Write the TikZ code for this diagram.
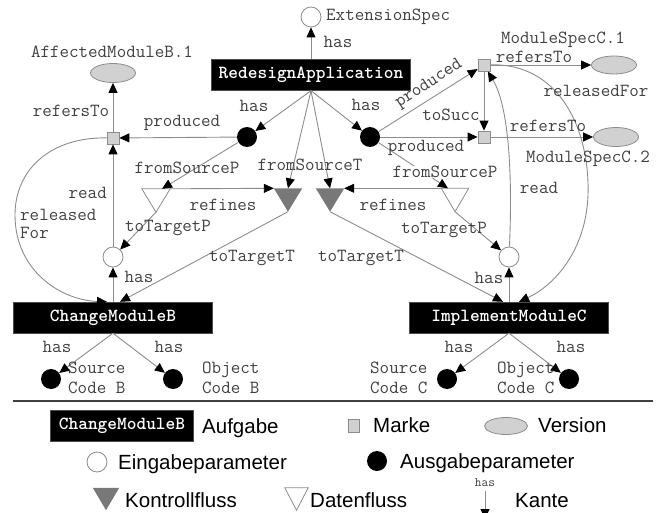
\documentclass[tikz,border=0pt]{standalone}
\usepackage{fontspec}
\setsansfont{Liberation Sans}
\usetikzlibrary{arrows.meta,shapes.geometric}

\definecolor{edgegray}{gray}{0.55}
\definecolor{tokenfill}{gray}{0.82}
\definecolor{ctrlfill}{gray}{0.47}
\definecolor{labelgray}{gray}{0.25}

\tikzset{
  lbl/.style={font=\ttfamily\fontsize{18.5}{20}\selectfont, text=labelgray, inner sep=0pt},
  smalllbl/.style={font=\ttfamily\fontsize{13}{14}\selectfont, text=labelgray, inner sep=0pt},
  legtxt/.style={font=\sffamily\fontsize{20.5}{22}\selectfont, text=black, inner sep=0pt, anchor=base west},
  task/.style={rectangle, fill=black, draw=black!70, text=white,
    font=\ttfamily\bfseries\fontsize{18.5}{20}\selectfont,
    minimum width=199pt, minimum height=31pt, inner sep=0pt},
  inparam/.style={circle, draw=edgegray, fill=white, line width=0.8pt, minimum size=20pt, inner sep=0pt},
  outparam/.style={circle, fill=black, minimum size=20pt, inner sep=0pt},
  token/.style={rectangle, draw=edgegray, fill=tokenfill, line width=0.8pt, minimum size=12pt, inner sep=0pt},
  version/.style={ellipse, draw=edgegray, fill=tokenfill, line width=0.8pt,
    minimum width=45pt, minimum height=19pt, inner sep=0pt},
  flowbox/.style={rectangle, minimum width=28pt, minimum height=23pt, inner sep=0pt},
  ctrltri/.style={fill=ctrlfill},
  datatri/.style={draw=edgegray, fill=white, line width=0.8pt},
  conn/.style={draw=edgegray, line width=0.9pt, -{Triangle[length=10pt,width=9pt,color=black]}},
}

\begin{document}
\begin{tikzpicture}[x=1pt,y=-1pt]
\useasboundingbox (0,0) rectangle (661,513);

% ---------- tasks ----------
\node[task] (RA)  at (311,75)    {RedesignApplication};
\node[task] (CMB) at (113,317.5) {ChangeModuleB};
\node[task] (IMC) at (509,317.5) {ImplementModuleC};

% ---------- parameters ----------
\node[inparam]  (ES)  at (311,17)  {};
\node[outparam] (bL)  at (247,137) {};
\node[outparam] (bR)  at (370,137) {};
\node[inparam]  (inL) at (113,257) {};
\node[inparam]  (inR) at (509,257) {};
\node[outparam] (sB)  at (51,379)  {};
\node[outparam] (oB)  at (173,379) {};
\node[outparam] (sC)  at (447,379) {};
\node[outparam] (oC)  at (569,379) {};

% ---------- tokens and versions ----------
\node[token]   (mB)   at (113,138) {};
\node[token]   (mC1)  at (484,65)  {};
\node[token]   (mC2)  at (484,137) {};
\node[version] (verB) at (113,73)  {};
\node[version, minimum height=18pt] (verC1) at (614,65)  {};
\node[version] (verC2) at (616,137) {};

% ---------- flow triangles ----------
\node[flowbox] (wtL) at (156,200.5) {};
\node[flowbox] (gtL) at (288,200)   {};
\node[flowbox] (gtR) at (330,200)   {};
\node[flowbox, minimum width=27pt] (wtR) at (455,200) {};
\draw[datatri] (wtL.north west) -- (wtL.north east) -- (wtL.south) -- cycle;
\fill[ctrltri] (gtL.north west) -- (gtL.north east) -- (gtL.south) -- cycle;
\fill[ctrltri] (gtR.north west) -- (gtR.north east) -- (gtR.south) -- cycle;
\draw[datatri] (wtR.north west) -- (wtR.north east) -- (wtR.south) -- cycle;

% ---------- connectors ----------
\draw[conn] (RA.north) -- (ES);
\draw[conn] (RA.south) -- (bL);
\draw[conn] (RA.south) -- (bR);
\draw[conn] (RA.south) -- (gtL.north);
\draw[conn] (RA.south) -- (gtR.north);

\draw[conn] (bL) -- (mB);
\draw[conn] (mB) -- (verB);
\draw[conn] (bL) -- ([xshift=6pt]wtL.north);
\draw[conn] (wtL.north east) -- (gtL.north west);
\draw[conn] (wtL.south) -- (inL);
\draw[conn] (gtL.south) -- ([xshift=7pt]CMB.north);
\draw[conn] (CMB.north) -- (inL);
\draw[conn] (inL) -- (mB);
\draw[conn] (mB) .. controls (50,137) and (15,170) .. (15,215)
                 .. controls (15,270) and (60,300) .. ([xshift=-6pt]CMB.north);

\draw[conn] (bR) -- (mC1);
\draw[conn] (bR) -- (mC2);
\draw[conn] (mC1) -- (mC2);
\draw[conn] (mC1) -- (verC1);
\draw[conn] (mC2) -- (verC2);
\draw[conn] (wtR.north west) -- (gtR.north east);
\draw[conn] (wtR.south) -- (inR);
\draw[conn] (gtR.south) -- ([xshift=-6pt]IMC.north);
\draw[conn] (IMC.north) -- (inR);
\draw[conn] (inR) .. controls (512,190) and (511,110) .. (mC1);
\draw[conn] (mC1) .. controls (560,63) and (590,130) .. (588,195)
                  .. controls (586,250) and (555,285) .. ([xshift=10pt]IMC.north);

\draw[conn] (CMB.south) -- (sB);
\draw[conn] (CMB.south) -- (oB);
\draw[conn] (IMC.south) -- (sC);
\draw[conn] (IMC.south) -- (oC);

% the right fromSourceP label sits on its own line
\draw[conn] (bR) -- ([xshift=-7pt]wtR.north);

% ---------- labels ----------
\node[lbl, anchor=west] (lES) at (326,17) {ExtensionSpec};
\node[lbl] (lHasES) at (338,42)  {has};
\node[lbl] (lAffB)  at (112,52)  {AffectedModuleB.1};
\node[lbl] (lRefB)  at (71,111)  {refersTo};
\node[lbl] (lProdL) at (182,123) {produced};
\node[lbl] (lHasL)  at (254,106) {has};
\node[lbl] (lHasR)  at (366,105) {has};
\node[lbl] (lMSC1)  at (563,40)  {ModuleSpecC.1};
\node[lbl] (lMSC2)  at (588,159) {ModuleSpecC.2};
\node[lbl] (lRefC1) at (534,57)  {refersTo};
\node[lbl] (lRefC2) at (548,126) {refersTo};
\node[lbl] (lRelC)  at (596,91)  {releasedFor};
\node[lbl] (lSucc)  at (451,115) {toSucc};
\node[lbl, rotate=33] (lProdR1) at (429,84) {produced};
\node[lbl] (lProdR2) at (426,148) {produced};
\node[lbl] (lFSPL)  at (187,168) {fromSourceP};
\node[lbl, fill=white] (lFSPR) at (445,172) {fromSourceP};
\node[lbl] (lFST)   at (310,165) {fromSourceT};
\node[lbl] (lRefL)  at (223,205) {refines};
\node[lbl] (lRefR)  at (393,205) {refines};
\node[lbl] (lTTPL)  at (168,228) {toTargetP};
\node[lbl] (lTTPR)  at (444,230) {toTargetP};
\node[lbl] (lTTTL)  at (252,258) {toTargetT};
\node[lbl] (lTTTR)  at (361,258) {toTargetT};
\node[lbl, anchor=east] (lReadL) at (107,193) {read};
\node[lbl] (lReadR) at (539,188) {read};
\node[lbl, anchor=west, align=left, font=\ttfamily\fontsize{18.5}{18}\selectfont] (lRelB) at (20,224) {released\\For};
\node[lbl] (lHasInL) at (139,277) {has};
\node[lbl] (lHasInR) at (489,278) {has};
\node[lbl] (lHasSB) at (57,347)  {has};
\node[lbl] (lHasOB) at (169,347) {has};
\node[lbl] (lHasSC) at (459,347) {has};
\node[lbl] (lHasOC) at (571,347) {has};
\node[lbl, anchor=west, align=left] (lSB) at (68,378)  {Source\\Code B};
\node[lbl, anchor=west, align=left] (lOB) at (202,378) {Object\\Code B};
\node[lbl, anchor=west, align=left] (lSC) at (370,378) {Source\\Code C};
\node[lbl, anchor=west, align=left] (lOC) at (497,378) {Object\\Code C};

% ---------- legend ----------
\draw[black!75, line width=2pt] (13,401) -- (653,401);

\node[task, minimum width=143pt] (lgTask) at (122,425.5) {ChangeModuleB};
\node[legtxt] (lgTaskT) at (202,433) {Aufgabe};
\node[token, minimum width=11pt, minimum height=13pt] (lgTok) at (354,426) {};
\node[legtxt] (lgTokT) at (373,432) {Marke};
\node[version, minimum width=43pt, minimum height=17pt] (lgVer) at (506,426) {};
\node[legtxt] (lgVerT) at (538,432) {Version};

\node[inparam] (lgIn) at (97,462) {};
\node[legtxt] (lgInT) at (118,469) {Eingabeparameter};
\node[outparam] (lgOut) at (377,461) {};
\node[legtxt] (lgOutT) at (400,468) {Ausgabeparameter};

\node[flowbox, minimum width=26pt, minimum height=22pt] (lgCtrl) at (106,499) {};
\fill[ctrltri] (lgCtrl.north west) -- (lgCtrl.north east) -- (lgCtrl.south) -- cycle;
\node[legtxt] (lgCtrlT) at (125,507) {Kontrollfluss};
\node[flowbox, minimum width=23pt, minimum height=22pt] (lgData) at (296.5,499) {};
\draw[datatri] (lgData.north west) -- (lgData.north east) -- (lgData.south) -- cycle;
\node[legtxt] (lgDataT) at (310,507) {Datenfluss};

\node[smalllbl] (lgHas) at (485,483) {has};
\coordinate (lgEdgeA) at (485,491);
\coordinate (lgEdgeB) at (485,519);
\draw[conn] (lgEdgeA) -- (lgEdgeB);
\node[legtxt] (lgEdgeT) at (515,507) {Kante};
\end{tikzpicture}
\end{document}
